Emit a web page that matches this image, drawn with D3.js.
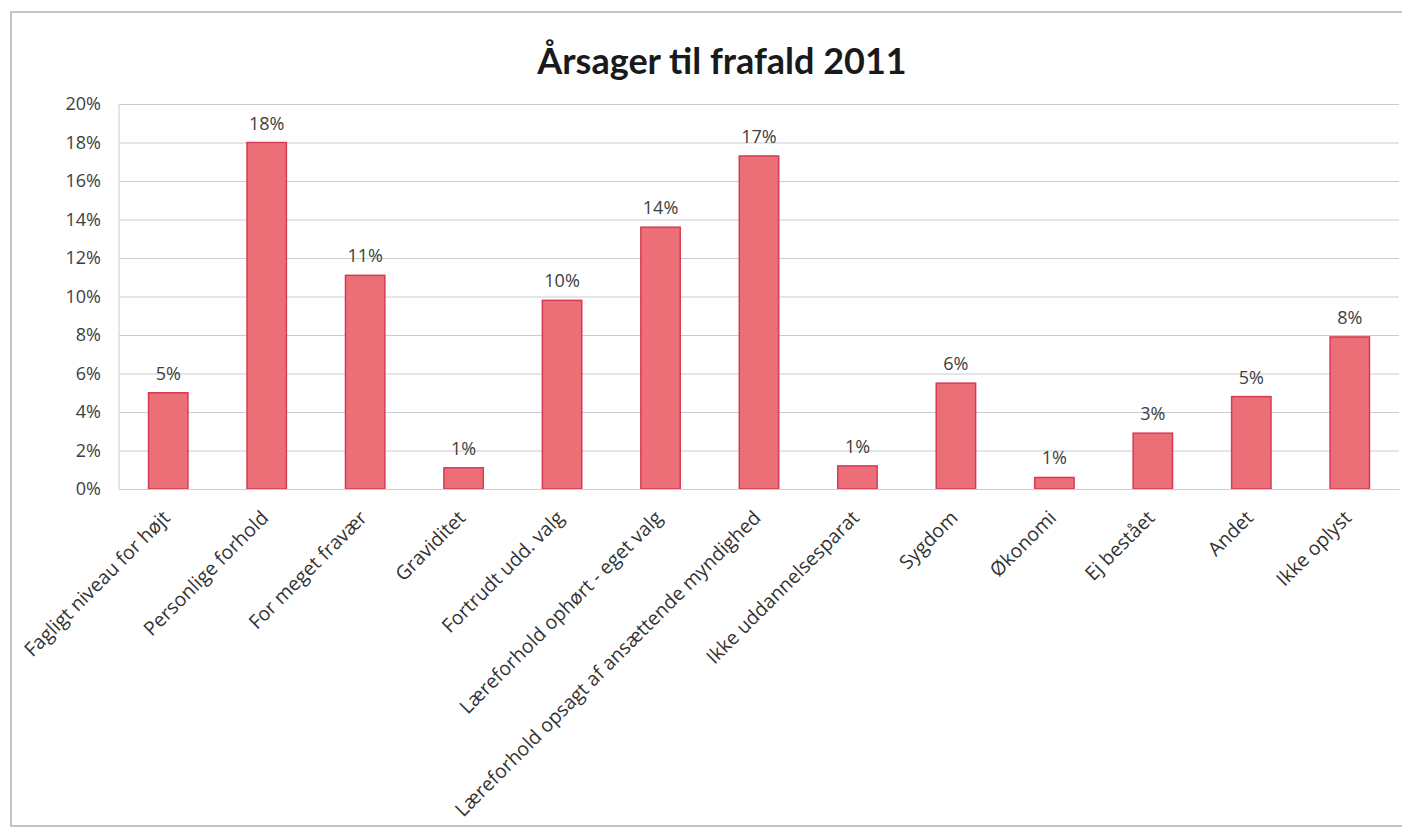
<!DOCTYPE html>
<html>
<head>
<meta charset="utf-8">
<script src="https://cdn.jsdelivr.net/npm/d3@7"></script>
<style>
  body { margin: 0; background: #fff; }
  svg { font-family: 'Open Sans', Lato, sans-serif; }
  .tick text { fill: #404040; font-size: 18px; }
  .grid line { stroke: #c8ccd6; }
  .grid path { display: none; }
  .value { fill: #404040; font-size: 18px; }
  .title { font-family: Lato, sans-serif; font-size: 36px; font-weight: bold; fill: #1a1a1a; }
</style>
</head>
<body>
<svg width="1402" height="832"></svg>
<script>
const categories = [
  'Fagligt niveau for højt', 'Personlige forhold', 'For meget fravær', 'Graviditet',
  'Fortrudt udd. valg', 'Læreforhold ophørt - eget valg', 'Læreforhold opsagt af ansættende myndighed',
  'Ikke uddannelsesparat', 'Sygdom', 'Økonomi', 'Ej bestået', 'Andet', 'Ikke oplyst'
];
const values = [5.0, 18.0, 11.1, 1.1, 9.8, 13.6, 17.3, 1.2, 5.5, 0.6, 2.9, 4.8, 7.9];
const labels = ['5%', '18%', '11%', '1%', '10%', '14%', '17%', '1%', '6%', '1%', '3%', '5%', '8%'];
const yTicks = [0, 2, 4, 6, 8, 10, 12, 14, 16, 18, 20];

const svg = d3.select('svg');

// outer frame
svg.append('rect')
  .attr('x', 11).attr('y', 12)
  .attr('width', 1400).attr('height', 814)
  .attr('fill', 'none')
  .attr('stroke', '#a9b3c2')
  .attr('stroke-width', 1.5);

const marginLeft = 119, marginTop = 104;
const width = 1280, height = 385;

const chart = svg.append('g')
  .attr('transform', `translate(${marginLeft}, ${marginTop})`);

const xScale = d3.scaleBand()
  .range([0, width])
  .domain(categories)
  .paddingInner(0.6)
  .paddingOuter(0.3);

const yScale = d3.scaleLinear()
  .range([height, 0])
  .domain([0, 20]);

chart.append('g')
  .attr('class', 'grid')
  .call(d3.axisLeft(yScale)
    .tickValues(yTicks)
    .tickSize(-width)
    .tickFormat(''));

// plot area left border
chart.append('line')
  .attr('x1', 0).attr('x2', 0)
  .attr('y1', 0).attr('y2', height)
  .attr('stroke', '#c8ccd6');

const yAxis = chart.append('g')
  .call(d3.axisLeft(yScale)
    .tickValues(yTicks)
    .tickSize(0)
    .tickPadding(18)
    .tickFormat((d) => `${d}%`))
  .attr('font-family', null)
  .attr('font-size', null);
yAxis.select('.domain').remove();

chart.selectAll('.bar')
  .data(values)
  .enter()
  .append('rect')
  .attr('class', 'bar')
  .attr('x', (d, i) => xScale(categories[i]))
  .attr('y', (d) => yScale(d))
  .attr('width', xScale.bandwidth())
  .attr('height', (d) => height - yScale(d))
  .attr('fill', '#ec6f78')
  .attr('stroke', '#d63a55')
  .attr('stroke-width', 1.5);

chart.selectAll('.value')
  .data(values)
  .enter()
  .append('text')
  .attr('class', 'value')
  .attr('x', (d, i) => xScale(categories[i]) + xScale.bandwidth() / 2)
  .attr('y', (d) => yScale(d) - 13)
  .attr('text-anchor', 'middle')
  .text((d, i) => labels[i]);

const xAxis = chart.append('g')
  .attr('transform', `translate(0, ${height})`)
  .call(d3.axisBottom(xScale).tickSize(0).tickPadding(0))
  .attr('font-family', null)
  .attr('font-size', null);
xAxis.select('.domain').attr('stroke', '#c8ccd6');
xAxis.selectAll('text')
  .attr('text-anchor', 'end')
  .attr('dy', 0)
  .style('font-size', '19.5px')
  .attr('transform', 'translate(3, 30) rotate(-45)')
  .style('fill', '#333');

svg.append('text')
  .attr('class', 'title')
  .attr('x', 722)
  .attr('y', 74)
  .attr('text-anchor', 'middle')
  .text('Årsager til frafald 2011');
</script>
</body>
</html>
